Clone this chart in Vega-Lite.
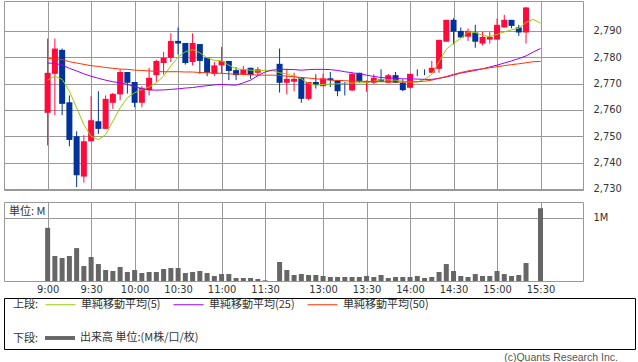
{
  "$schema": "https://vega.github.io/schema/vega-lite/v6.json",
  "padding": {"left": 3, "top": 0, "right": 0, "bottom": 0},
  "background": "#ffffff",
  "datasets": {
    "candles": [
      {"s":0,"o":2758.9,"h":2787.1,"l":2746.5,"c":2774.1,"v":0.84,"m5":2771.3,"m25":2777.8,"m50":2779.6},
      {"s":1,"o":2773.7,"h":2787.1,"l":2758.0,"c":2783.3,"v":0.395,"m5":2772.8,"m25":2777.7,"m50":2779.3},
      {"s":2,"o":2782.8,"h":2783.3,"l":2758.0,"c":2762.3,"v":0.363,"m5":2771.6,"m25":2777.0,"m50":2779.1},
      {"s":3,"o":2762.9,"h":2765.5,"l":2746.2,"c":2748.6,"v":0.395,"m5":2767.1,"m25":2775.8,"m50":2778.3},
      {"s":4,"o":2750.0,"h":2751.9,"l":2730.7,"c":2735.2,"v":0.52,"m5":2760.8,"m25":2774.8,"m50":2777.8},
      {"s":5,"o":2734.7,"h":2750.4,"l":2732.4,"c":2748.1,"v":0.237,"m5":2754.4,"m25":2773.7,"m50":2777.3},
      {"s":6,"o":2748.1,"h":2765.2,"l":2748.1,"c":2756.1,"v":0.379,"m5":2750.0,"m25":2772.8,"m50":2776.8},
      {"s":7,"o":2755.7,"h":2767.1,"l":2750.9,"c":2752.8,"v":0.268,"m5":2748.7,"m25":2772.0,"m50":2776.5},
      {"s":8,"o":2752.8,"h":2765.5,"l":2752.8,"c":2764.2,"v":0.174,"m5":2750.6,"m25":2771.3,"m50":2776.1},
      {"s":9,"o":2762.7,"h":2766.5,"l":2760.4,"c":2766.1,"v":0.158,"m5":2755.7,"m25":2770.7,"m50":2775.8},
      {"s":10,"o":2765.9,"h":2775.4,"l":2763.7,"c":2774.4,"v":0.221,"m5":2760.8,"m25":2770.3,"m50":2775.5},
      {"s":11,"o":2774.4,"h":2774.4,"l":2766.2,"c":2770.3,"v":0.142,"m5":2764.6,"m25":2769.7,"m50":2775.4},
      {"s":12,"o":2770.6,"h":2770.6,"l":2761.0,"c":2762.7,"v":0.174,"m5":2766.5,"m25":2768.8,"m50":2775.1},
      {"s":13,"o":2762.7,"h":2769.0,"l":2761.0,"c":2768.4,"v":0.126,"m5":2767.8,"m25":2768.1,"m50":2775.0},
      {"s":14,"o":2767.5,"h":2776.0,"l":2765.5,"c":2772.2,"v":0.142,"m5":2768.7,"m25":2767.6,"m50":2774.8},
      {"s":15,"o":2773.2,"h":2779.0,"l":2770.7,"c":2778.6,"v":0.142,"m5":2770.3,"m25":2767.5,"m50":2774.6},
      {"s":16,"o":2777.8,"h":2782.0,"l":2773.5,"c":2779.8,"v":0.19,"m5":2772.8,"m25":2767.6,"m50":2774.5},
      {"s":17,"o":2779.8,"h":2789.1,"l":2778.2,"c":2786.2,"v":0.205,"m5":2776.7,"m25":2767.8,"m50":2774.5},
      {"s":18,"o":2786.2,"h":2791.3,"l":2781.1,"c":2785.2,"v":0.205,"m5":2780.1,"m25":2768.0,"m50":2774.5},
      {"s":19,"o":2785.4,"h":2785.4,"l":2777.2,"c":2777.8,"v":0.126,"m5":2782.1,"m25":2768.3,"m50":2774.4},
      {"s":20,"o":2778.2,"h":2789.1,"l":2776.9,"c":2785.4,"v":0.142,"m5":2782.9,"m25":2768.5,"m50":2774.4},
      {"s":21,"o":2785.0,"h":2785.0,"l":2773.7,"c":2778.6,"v":0.158,"m5":2781.7,"m25":2768.9,"m50":2774.2},
      {"s":22,"o":2779.8,"h":2779.8,"l":2772.8,"c":2774.1,"v":0.126,"m5":2779.8,"m25":2769.2,"m50":2774.1},
      {"s":23,"o":2773.7,"h":2778.2,"l":2772.8,"c":2776.9,"v":0.079,"m5":2778.8,"m25":2769.5,"m50":2774.0},
      {"s":24,"o":2776.9,"h":2783.9,"l":2773.7,"c":2778.6,"v":0.11,"m5":2778.6,"m25":2769.7,"m50":2773.9},
      {"s":25,"o":2778.6,"h":2778.6,"l":2771.3,"c":2774.8,"v":0.11,"m5":2777.0,"m25":2769.5,"m50":2773.7},
      {"s":26,"o":2775.1,"h":2776.3,"l":2771.3,"c":2773.2,"v":0.047,"m5":2775.6,"m25":2769.4,"m50":2773.6},
      {"s":27,"o":2773.5,"h":2776.7,"l":2773.2,"c":2775.4,"v":0.047,"m5":2775.4,"m25":2770.3,"m50":2773.5},
      {"s":28,"o":2776.0,"h":2776.0,"l":2771.8,"c":2773.2,"v":0.047,"m5":2775.1,"m25":2771.3,"m50":2773.4},
      {"s":29,"o":2774.1,"h":2776.3,"l":2772.8,"c":2775.4,"v":0.032,"m5":2774.8,"m25":2773.0,"m50":2773.2},
      {"s":30,"o":2776.5,"h":2776.5,"l":2776.5,"c":2776.5,"v":0.01,"m5":2775.1,"m25":2774.4,"m50":2773.2},
      {"s":31,"m5":2775.0,"m25":2775.1,"m50":2773.2},
      {"s":32,"o":2777.5,"h":2783.3,"l":2766.6,"c":2770.3,"v":0.30,"m5":2774.1,"m25":2775.4,"m50":2773.1},
      {"s":33,"o":2770.3,"h":2775.6,"l":2765.9,"c":2771.8,"v":0.174,"m5":2773.7,"m25":2775.4,"m50":2772.8},
      {"s":34,"o":2770.7,"h":2774.1,"l":2767.1,"c":2771.8,"v":0.095,"m5":2772.8,"m25":2775.3,"m50":2772.6},
      {"s":35,"o":2772.2,"h":2772.5,"l":2762.7,"c":2764.2,"v":0.11,"m5":2771.8,"m25":2775.1,"m50":2772.3},
      {"s":36,"o":2764.2,"h":2770.6,"l":2763.7,"c":2770.6,"v":0.095,"m5":2770.1,"m25":2775.3,"m50":2772.1},
      {"s":37,"o":2770.6,"h":2773.5,"l":2768.1,"c":2769.4,"v":0.095,"m5":2769.4,"m25":2775.4,"m50":2771.8},
      {"s":38,"o":2769.0,"h":2773.7,"l":2769.0,"c":2772.0,"v":0.079,"m5":2769.7,"m25":2775.4,"m50":2771.6},
      {"s":39,"o":2772.0,"h":2774.4,"l":2768.7,"c":2771.3,"v":0.063,"m5":2769.8,"m25":2775.3,"m50":2771.3},
      {"s":40,"o":2771.2,"h":2771.2,"l":2765.2,"c":2767.1,"v":0.063,"m5":2769.9,"m25":2775.0,"m50":2771.2},
      {"s":41,"o":2767.4,"h":2770.6,"l":2765.5,"c":2767.4,"v":0.063,"m5":2770.1,"m25":2774.5,"m50":2771.1},
      {"s":42,"o":2767.4,"h":2774.1,"l":2767.1,"c":2773.7,"v":0.063,"m5":2770.2,"m25":2774.1,"m50":2770.9},
      {"s":43,"o":2774.1,"h":2774.1,"l":2770.3,"c":2770.9,"v":0.063,"m5":2770.3,"m25":2773.7,"m50":2770.9},
      {"s":44,"o":2770.3,"h":2771.2,"l":2766.9,"c":2771.0,"v":0.079,"m5":2770.4,"m25":2773.2,"m50":2770.8},
      {"s":45,"o":2770.3,"h":2773.5,"l":2769.9,"c":2772.2,"v":0.063,"m5":2770.9,"m25":2772.7,"m50":2770.8},
      {"s":46,"o":2771.6,"h":2775.4,"l":2770.7,"c":2770.7,"v":0.095,"m5":2771.4,"m25":2772.3,"m50":2770.7},
      {"s":47,"o":2770.3,"h":2773.7,"l":2770.3,"c":2773.2,"v":0.047,"m5":2771.4,"m25":2772.1,"m50":2770.7},
      {"s":48,"o":2773.2,"h":2774.4,"l":2770.3,"c":2770.3,"v":0.063,"m5":2771.3,"m25":2772.0,"m50":2770.6},
      {"s":49,"o":2770.3,"h":2771.6,"l":2767.1,"c":2767.5,"v":0.063,"m5":2770.9,"m25":2771.8,"m50":2770.6},
      {"s":50,"o":2768.4,"h":2773.7,"l":2768.1,"c":2773.7,"v":0.063,"m5":2770.6,"m25":2771.8,"m50":2770.6},
      {"s":51,"o":2774.1,"h":2775.4,"l":2772.8,"c":2774.1,"v":0.079,"m5":2770.6,"m25":2771.7,"m50":2770.7},
      {"s":52,"o":2774.4,"h":2775.4,"l":2773.2,"c":2774.4,"v":0.047,"m5":2771.6,"m25":2771.6,"m50":2770.9},
      {"s":53,"o":2774.1,"h":2778.6,"l":2774.1,"c":2776.0,"v":0.063,"m5":2773.5,"m25":2771.6,"m50":2771.3},
      {"s":54,"o":2775.6,"h":2786.6,"l":2774.1,"c":2786.6,"v":0.142,"m5":2778.3,"m25":2772.0,"m50":2772.0},
      {"s":55,"o":2785.9,"h":2794.2,"l":2785.9,"c":2794.2,"v":0.268,"m5":2783.0,"m25":2772.5,"m50":2772.7},
      {"s":56,"o":2794.2,"h":2794.8,"l":2784.9,"c":2789.7,"v":0.158,"m5":2785.3,"m25":2773.2,"m50":2773.5},
      {"s":57,"o":2790.0,"h":2791.3,"l":2787.5,"c":2787.5,"v":0.079,"m5":2787.2,"m25":2774.0,"m50":2774.2},
      {"s":58,"o":2787.8,"h":2790.9,"l":2786.2,"c":2790.0,"v":0.063,"m5":2789.6,"m25":2774.5,"m50":2774.8},
      {"s":59,"o":2789.4,"h":2792.3,"l":2783.6,"c":2785.9,"v":0.11,"m5":2789.4,"m25":2775.0,"m50":2775.3},
      {"s":60,"o":2785.2,"h":2789.6,"l":2784.5,"c":2787.7,"v":0.079,"m5":2788.3,"m25":2775.6,"m50":2775.6},
      {"s":61,"o":2786.7,"h":2789.6,"l":2785.2,"c":2787.7,"v":0.079,"m5":2787.8,"m25":2776.3,"m50":2776.0},
      {"s":62,"o":2786.7,"h":2794.7,"l":2786.7,"c":2792.3,"v":0.158,"m5":2788.7,"m25":2777.0,"m50":2776.4},
      {"s":63,"o":2791.3,"h":2796.1,"l":2791.3,"c":2794.2,"v":0.11,"m5":2789.6,"m25":2777.8,"m50":2776.8},
      {"s":64,"o":2794.2,"h":2794.2,"l":2791.0,"c":2791.9,"v":0.079,"m5":2790.4,"m25":2778.6,"m50":2777.2},
      {"s":65,"o":2791.3,"h":2792.3,"l":2788.1,"c":2789.4,"v":0.095,"m5":2791.0,"m25":2779.5,"m50":2777.5},
      {"s":66,"o":2789.4,"h":2799.1,"l":2785.2,"c":2798.9,"v":0.284,"m5":2793.2,"m25":2780.5,"m50":2777.9},
      {"s":67,"m5":2794.4,"m25":2782.0,"m50":2778.3},
      {"s":68,"o":2785.3,"h":2785.3,"l":2785.3,"c":2785.3,"v":1.15,"m5":2792.9,"m25":2783.3,"m50":2778.4}
    ],
    "box": []
  },
  "config": {
    "font": "DejaVu Sans",
    "view": {"stroke": "#999999"},
    "axis": {
      "gridColor": "#999999", "gridWidth": 1, "gridOpacity": 1,
      "domain": false, "ticks": false, "labelOverlap": false,
      "labelFont": "DejaVu Sans Condensed", "labelFontSize": 11, "labelColor": "#333333"
    },
    "legend": {
      "titleFont": "Noto Sans CJK JP", "titleFontSize": 11, "titleFontWeight": "normal", "titleColor": "#333333",
      "labelFont": "Noto Sans CJK JP", "labelFontSize": 11, "labelColor": "#333333",
      "padding": 0, "labelLimit": 300
    }
  },
  "vconcat": [
    {
      "spacing": 12,
      "bounds": "flush",
      "vconcat": [
        {
          "width": 579,
          "height": 189,
          "data": {"name": "candles"},
          "encoding": {
            "x": {
              "field": "s", "type": "quantitative",
              "scale": {"domain": [-5.33, 73.17], "nice": false, "zero": false},
              "axis": {"values": [0,6,12,18,24,30,38,44,50,56,62,68], "labels": false, "title": null, "grid": true}
            }
          },
          "layer": [
            {
              "mark": {"type": "rule", "strokeWidth": 1},
              "encoding": {
                "y": {
                  "field": "l", "type": "quantitative",
                  "scale": {"domain": [2729.6, 2801.35], "nice": false, "zero": false},
                  "axis": {"orient": "right", "values": [2730,2740,2750,2760,2770,2780,2790], "labelExpr": "format(datum.value, ',')", "title": null, "labelPadding": 10, "grid": true}
                },
                "y2": {"field": "h"},
                "color": {"condition": {"test": "datum.c > datum.o", "value": "#ff0a3c"}, "value": "#003399"}
              }
            },
            {
              "mark": {"type": "bar", "size": 6, "minBandSize": 1},
              "encoding": {
                "y": {
                  "field": "o", "type": "quantitative",
                  "scale": {"domain": [2729.6, 2801.35], "nice": false, "zero": false},
                  "axis": {"orient": "right", "values": [2730,2740,2750,2760,2770,2780,2790], "labelExpr": "format(datum.value, ',')", "title": null, "labelPadding": 10, "grid": true}
                },
                "y2": {"field": "c"},
                "color": {"condition": {"test": "datum.c > datum.o", "value": "#ff0a3c"}, "value": "#003399"}
              }
            },
            {
              "transform": [{"fold": ["m5", "m25", "m50"], "as": ["series", "ma"]}],
              "mark": {"type": "line", "strokeWidth": 1},
              "encoding": {
                "y": {
                  "field": "ma", "type": "quantitative",
                  "scale": {"domain": [2729.6, 2801.35], "nice": false, "zero": false},
                  "axis": {"orient": "right", "values": [2730,2740,2750,2760,2770,2780,2790], "labelExpr": "format(datum.value, ',')", "title": null, "labelPadding": 10, "grid": true}
                },
                "stroke": {
                  "field": "series", "type": "nominal",
                  "scale": {"domain": ["m5", "m25", "m50"], "range": ["#99cc00", "#9900ff", "#ff3300"]},
                  "legend": {
                    "orient": "none", "legendX": 9, "legendY": 288,
                    "direction": "horizontal", "columns": 3,
                    "title": "上段:", "titleOrient": "left", "titlePadding": 6,
                    "titleBaseline": "line-top", "titleLineHeight": 12,
                    "symbolType": "stroke", "symbolSize": 900, "symbolStrokeWidth": 1,
                    "labelOffset": 5, "columnPadding": 10,
                    "labelExpr": "datum.label == 'm5' ? '単純移動平均(5)' : datum.label == 'm25' ? '単純移動平均(25)' : '単純移動平均(50)'"
                  }
                }
              }
            }
          ]
        },
        {
          "width": 579,
          "height": 79,
          "data": {"name": "candles"},
          "title": {
            "text": "単位: M", "orient": "top", "anchor": "start", "frame": "group",
            "offset": -15, "dx": 5,
            "font": "Noto Sans CJK JP", "fontSize": 11, "fontWeight": "normal", "color": "#333333"
          },
          "mark": {"type": "bar", "size": 5, "orient": "vertical"},
          "encoding": {
            "x": {
              "field": "s", "type": "quantitative",
              "scale": {"domain": [-5.33, 73.17], "nice": false, "zero": false},
              "axis": {
                "values": [0,6,12,18,24,30,38,44,50,56,62,68], "title": null, "grid": true, "labelPadding": 2,
                "labelExpr": "['9:00','9:30','10:00','10:30','11:00','11:30','13:00','13:30','14:00','14:30','15:00','15:30'][indexof([0,6,12,18,24,30,38,44,50,56,62,68], datum.value)]"
              }
            },
            "y": {
              "field": "v", "type": "quantitative",
              "scale": {"domain": [0, 1.248], "nice": false},
              "axis": {"orient": "right", "values": [1], "labelExpr": "'1M'", "title": null, "labelPadding": 10, "grid": true}
            },
            "fill": {
              "datum": "出来高 単位:(M株/口/枚)", "type": "nominal",
              "scale": {"domain": ["出来高 単位:(M株/口/枚)"], "range": ["#666666"]},
              "legend": {
                "orient": "none", "legendX": 9, "legendY": 322,
                "direction": "horizontal",
                "title": "下段:", "titleOrient": "left", "titlePadding": 6,
                "titleBaseline": "line-top", "titleLineHeight": 12,
                "symbolType": "M-1,-0.13H1V0.13H-1Z", "symbolSize": 900, "symbolStrokeWidth": 0,
                "labelOffset": 5
              }
            }
          }
        }
      ]
    },
    {
      "width": 631,
      "height": 51,
      "data": {"name": "box"},
      "mark": "point",
      "view": {"stroke": "#000000", "strokeWidth": 1},
      "title": {
        "text": "(c)Quants Research Inc.", "orient": "bottom", "anchor": "end", "frame": "group",
        "offset": 4, "dx": -17,
        "font": "Liberation Sans", "fontSize": 10.5, "fontWeight": "normal", "color": "#555555"
      }
    }
  ],
  "spacing": 2
}
